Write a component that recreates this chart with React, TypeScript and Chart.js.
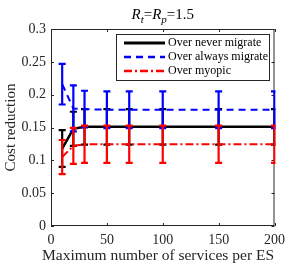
import React, { useEffect, useRef } from "react";
import { Chart, registerables } from "chart.js";

Chart.register(...registerables);

const xValues = [10, 20, 30, 50, 70, 100, 150, 200];
const neverMean = [0.118, 0.148, 0.151, 0.151, 0.151, 0.151, 0.151, 0.151];
const neverErr = [0.028, 0.026, 0.027, 0.027, 0.027, 0.027, 0.027, 0.027];
const alwaysMean = [0.216, 0.179, 0.178, 0.177, 0.177, 0.177, 0.177, 0.177];
const alwaysErr = [0.031, 0.035, 0.028, 0.028, 0.028, 0.028, 0.028, 0.028];
const myopicMean = [0.105, 0.122, 0.1245, 0.1245, 0.1245, 0.1245, 0.1245, 0.1245];
const myopicErr = [0.026, 0.0275, 0.0285, 0.0285, 0.0285, 0.0285, 0.0285, 0.0285];
const seriesLabels = ["Over never migrate", "Over always migrate", "Over myopic"];
const seriesColors = ["#000000", "#0000ff", "#ff0000"];
const seriesDash = [[], [7, 5], [8, 3, 2, 3]];
const xTickValues = [0, 50, 100, 150, 200];
const yTickValues = [0, 0.05, 0.1, 0.15, 0.2, 0.25, 0.3];
const xTitle = "Maximum number of services per ES";
const yTitle = "Cost reduction";
// title: R_t = R_p = 1.5
const titleParts: [string, string][] = [
  ["R", "main-i"],
  ["t", "sub"],
  ["=", "main"],
  ["R", "main-i"],
  ["p", "sub"],
  ["=1.5", "main"],
];

const FONT = '"Liberation Serif", "Times New Roman", serif';
const AXIS_COLOR = "#262626";

const errorBarPlugin = {
  id: "errorBars",
  afterDatasetDraw(chart: any, args: any) {
    const ds = chart.data.datasets[args.index];
    const errs: number[] = ds.errors;
    if (!errs) return;
    const { ctx, chartArea } = chart;
    const xs = chart.scales.x;
    const ys = chart.scales.y;
    ctx.save();
    ctx.beginPath();
    ctx.rect(chartArea.left - 1, chartArea.top - 2, chartArea.right - chartArea.left + 2, chartArea.bottom - chartArea.top + 4);
    ctx.clip();
    ctx.strokeStyle = ds.borderColor;
    ctx.lineWidth = 2.2;
    ctx.setLineDash([]);
    const cap = 3.5;
    ds.data.forEach((p: any, i: number) => {
      const px = xs.getPixelForValue(p.x);
      const top = ys.getPixelForValue(p.y + errs[i]);
      const bot = ys.getPixelForValue(p.y - errs[i]);
      ctx.beginPath();
      ctx.moveTo(px, top);
      ctx.lineTo(px, bot);
      ctx.moveTo(px - cap, top);
      ctx.lineTo(px + cap, top);
      ctx.moveTo(px - cap, bot);
      ctx.lineTo(px + cap, bot);
      ctx.stroke();
    });
    ctx.restore();
  },
};

const framePlugin = {
  id: "frame",
  beforeDatasetsDraw(chart: any) {
    const { ctx, chartArea } = chart;
    const { left, right, top, bottom } = chartArea;
    ctx.save();
    ctx.strokeStyle = AXIS_COLOR;
    ctx.lineWidth = 1;
    ctx.setLineDash([]);
    ctx.strokeRect(left + 0.5, top + 0.5, right - left - 1, bottom - top - 1);
    const tl = 3;
    ctx.beginPath();
    xTickValues.forEach((v) => {
      const px = Math.round(chart.scales.x.getPixelForValue(v)) + 0.5;
      ctx.moveTo(px, bottom);
      ctx.lineTo(px, bottom - tl);
      ctx.moveTo(px, top);
      ctx.lineTo(px, top + tl);
    });
    yTickValues.forEach((v) => {
      const py = Math.round(chart.scales.y.getPixelForValue(v)) + 0.5;
      ctx.moveTo(left, py);
      ctx.lineTo(left + tl, py);
      ctx.moveTo(right, py);
      ctx.lineTo(right - tl, py);
    });
    ctx.stroke();
    ctx.restore();
  },
};

const textPlugin = {
  id: "texts",
  afterDraw(chart: any) {
    const { ctx, chartArea } = chart;
    ctx.save();
    // axis titles
    ctx.fillStyle = AXIS_COLOR;
    ctx.font = `15.5px ${FONT}`;
    ctx.textAlign = "center";
    ctx.textBaseline = "alphabetic";
    ctx.fillText(xTitle, 158, 260);
    ctx.save();
    ctx.font = `15px ${FONT}`;
    ctx.textBaseline = "middle";
    ctx.translate(11, (chartArea.top + chartArea.bottom) / 2);
    ctx.rotate(-Math.PI / 2);
    ctx.fillText(yTitle, 0, 0);
    ctx.restore();

    // title
    const fontFor = (k: string) =>
      k === "main-i" ? `italic 15px ${FONT}` : k === "sub" ? `italic 11px ${FONT}` : `15px ${FONT}`;
    let total = 0;
    titleParts.forEach(([t, k]) => {
      ctx.font = fontFor(k);
      total += ctx.measureText(t).width;
    });
    let tx = (chartArea.left + chartArea.right) / 2 - total / 2;
    ctx.textAlign = "left";
    ctx.textBaseline = "alphabetic";
    ctx.fillStyle = "#000";
    titleParts.forEach(([t, k]) => {
      ctx.font = fontFor(k);
      ctx.fillText(t, tx, k === "sub" ? 23 : 19);
      tx += ctx.measureText(t).width;
    });

    // legend
    const lx = 116, ly = 34, lw = 153, lh = 46;
    ctx.fillStyle = "#ffffff";
    ctx.fillRect(lx, ly, lw, lh);
    ctx.strokeStyle = AXIS_COLOR;
    ctx.lineWidth = 1;
    ctx.setLineDash([]);
    ctx.strokeRect(lx + 0.5, ly + 0.5, lw, lh);
    const rows = [43, 57, 71];
    seriesLabels.forEach((lab, i) => {
      ctx.strokeStyle = seriesColors[i];
      ctx.lineWidth = i === 0 ? 2.8 : 2.4;
      ctx.setLineDash(seriesDash[i]);
      ctx.beginPath();
      ctx.moveTo(124, rows[i]);
      ctx.lineTo(165, rows[i]);
      ctx.stroke();
      ctx.setLineDash([]);
      ctx.fillStyle = "#000";
      ctx.font = `12px ${FONT}`;
      ctx.textBaseline = "middle";
      ctx.fillText(lab, 168, rows[i]);
    });
    ctx.restore();
  },
};

export default function App() {
  const ref = useRef<HTMLCanvasElement | null>(null);
  useEffect(() => {
    if (!ref.current) return;
    const means = [neverMean, alwaysMean, myopicMean];
    const errs = [neverErr, alwaysErr, myopicErr];
    const orders = [3, 2, 1];
    const chart = new Chart(ref.current, {
      type: "line",
      data: {
        datasets: seriesLabels.map((label, i) => ({
          label,
          data: xValues.map((x, j) => ({ x, y: means[i][j] })),
          errors: errs[i],
          borderColor: seriesColors[i],
          backgroundColor: seriesColors[i],
          borderWidth: i === 0 ? 2.5 : 2,
          borderDash: seriesDash[i],
          pointRadius: 0,
          tension: 0,
          fill: false,
          order: orders[i],
          clip: false,
        })) as any,
      },
      options: {
        animation: false,
        responsive: false,
        maintainAspectRatio: false,
        layout: { padding: { top: 29, right: 14, left: 0, bottom: 0 } },
        plugins: { legend: { display: false }, tooltip: { enabled: false }, title: { display: false } },
        scales: {
          x: {
            type: "linear",
            min: 0,
            max: 200,
            afterBuildTicks: (s: any) => {
              s.ticks = xTickValues.map((v) => ({ value: v }));
            },
            afterFit: (s: any) => {
              s.height = 41;
            },
            grid: { display: false, drawTicks: false },
            border: { display: false },
            ticks: {
              padding: 6,
              color: AXIS_COLOR,
              font: { family: FONT, size: 14 },
              maxRotation: 0,
              callback: (v: any) => String(v),
            },
          },
          y: {
            type: "linear",
            min: 0,
            max: 0.3,
            afterBuildTicks: (s: any) => {
              s.ticks = yTickValues.map((v) => ({ value: v }));
            },
            afterFit: (s: any) => {
              s.width = 51;
            },
            grid: { display: false, drawTicks: false },
            border: { display: false },
            ticks: {
              padding: 5,
              color: AXIS_COLOR,
              font: { family: FONT, size: 14 },
              callback: (v: any) => String(+Number(v).toFixed(2)),
            },
          },
        },
      },
      plugins: [framePlugin, errorBarPlugin, textPlugin],
    });
    return () => chart.destroy();
  }, []);
  return (
    <div style={{ position: "absolute", left: 0, top: 0, width: 291, height: 267, background: "#fff" }}>
      <canvas ref={ref} width={291} height={267} style={{ display: "block" }} />
    </div>
  );
}
